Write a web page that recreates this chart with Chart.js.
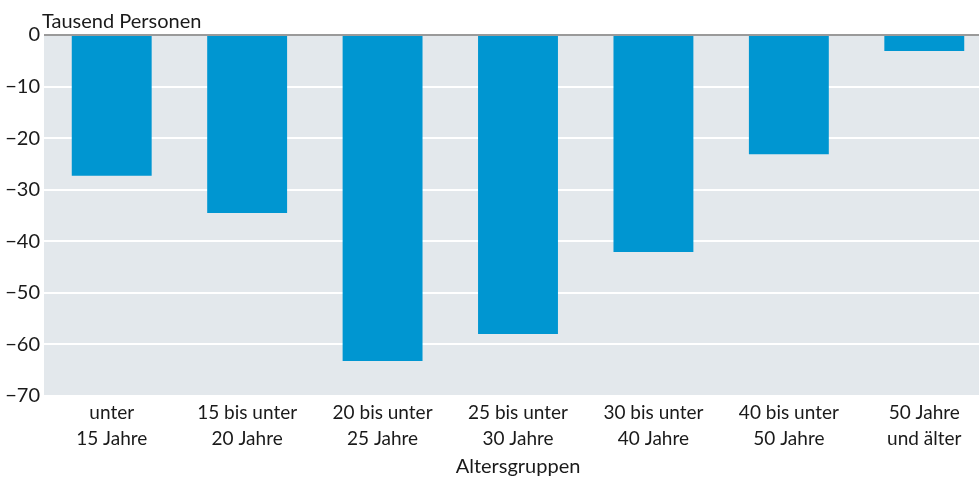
<!DOCTYPE html>
<html>
<head>
<meta charset="utf-8">
<script src="https://cdn.jsdelivr.net/npm/chart.js@4"></script>
<style>
    body { margin: 0; background: #fff; overflow: hidden; }
    #wrap { width: 992px; height: 479px; }
</style>
</head>
<body>
<div id="wrap"><canvas id="barChart"></canvas></div>
<script>
//ALTERSGRUPPEN BAR CHART
let categories = [
    ['unter', '15 Jahre'],
    ['15 bis unter', '20 Jahre'],
    ['20 bis unter', '25 Jahre'],
    ['25 bis unter', '30 Jahre'],
    ['30 bis unter', '40 Jahre'],
    ['40 bis unter', '50 Jahre'],
    ['50 Jahre', 'und älter']
];
let values = [-27.3, -34.5, -63.2, -58.0, -42.1, -23.1, -3.1];
let yTicks = [0, -10, -20, -30, -40, -50, -60, -70];

const fontName = 'Lato, "Noto Sans", sans-serif';

// grey plot background + zero line on top + unit label
const decor = {
    id: 'decor',
    beforeDraw(chart) {
        const { ctx, chartArea: a } = chart;
        ctx.save();
        ctx.fillStyle = '#e3e8ec';
        ctx.fillRect(a.left, a.top, a.right - a.left, a.bottom - a.top);
        ctx.restore();
    },
    afterDatasetsDraw(chart) {
        const { ctx, chartArea: a } = chart;
        const y0 = chart.scales.y.getPixelForValue(0);
        ctx.save();
        ctx.strokeStyle = '#9a9a9a';
        ctx.lineWidth = 2;
        ctx.beginPath();
        ctx.moveTo(a.left, y0);
        ctx.lineTo(a.right, y0);
        ctx.stroke();
        ctx.fillStyle = '#1a1a1a';
        ctx.font = '20px ' + fontName;
        ctx.textAlign = 'left';
        ctx.textBaseline = 'alphabetic';
        ctx.fillText('Tausend Personen', a.left - 2, a.top - 7);
        ctx.restore();
    }
};

const barChart = document.querySelector('#barChart');

new Chart(barChart, {
    type: 'bar',
    data: {
        labels: categories,
        datasets: [
            {
                data: values,
                backgroundColor: '#0096d1',
                borderWidth: 0,
                categoryPercentage: 0.59,
                barPercentage: 1
            }
        ]
    },
    options: {
        responsive: true,
        maintainAspectRatio: false,
        animation: false,
        layout: { padding: { top: 35, right: 0, left: 0, bottom: 0 } },
        plugins: {
            legend: { display: false },
            tooltip: { enabled: false }
        },
        scales: {
            x: {
                afterFit(scale) { scale.height = 83; },
                grid: { display: false, drawTicks: false },
                border: { display: false },
                ticks: {
                    color: '#1a1a1a',
                    font: { family: fontName, size: 19, lineHeight: 1.35 },
                    padding: 4,
                    maxRotation: 0,
                    autoSkip: false
                },
                title: {
                    display: true,
                    text: 'Altersgruppen',
                    color: '#1a1a1a',
                    font: { family: fontName, size: 20 },
                    padding: { top: 2, bottom: 0 }
                }
            },
            y: {
                min: -70,
                max: 0,
                afterFit(scale) { scale.width = 44; },
                afterBuildTicks(scale) {
                    scale.ticks = yTicks.map(v => ({ value: v }));
                },
                grid: {
                    color: '#ffffff',
                    lineWidth: 2,
                    drawTicks: false
                },
                border: { display: false },
                ticks: {
                    color: '#1a1a1a',
                    font: { family: fontName, size: 20 },
                    padding: 4,
                    callback: v => String(v).replace('-', '\u2212')
                }
            }
        }
    },
    plugins: [decor]
});
</script>
</body>
</html>
